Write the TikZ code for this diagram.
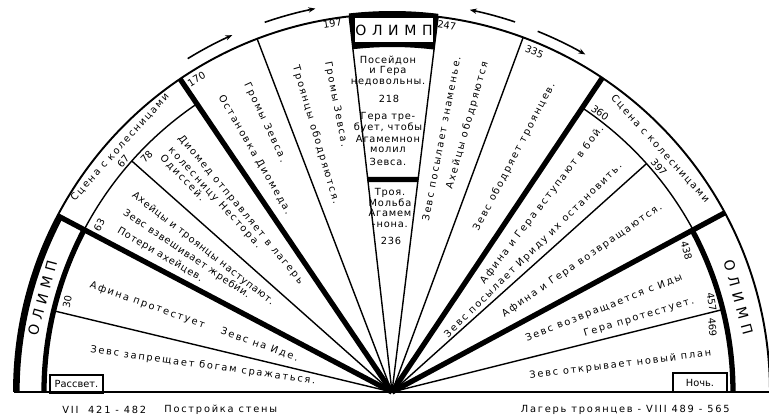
\documentclass[tikz,border=0pt]{standalone}
\usepackage{fontspec}
\setmainfont{DejaVu Sans}
\newfontfamily\widefont{DejaVu Sans}[LetterSpace=18]
\newfontfamily\midfont{DejaVu Sans}[LetterSpace=8]
\newfontfamily\olimpfam{DejaVu Sans}[LetterSpace=40]
\usetikzlibrary{arrows.meta}

\begin{document}
\begin{tikzpicture}[
    x=0.02cm, y=0.02cm,
    txt/.style={font=\widefont\fontsize{5.6}{6.6}\selectfont, inner sep=0pt},
    mid/.style={font=\midfont\fontsize{5.6}{6.6}\selectfont, inner sep=0pt},
    num/.style={font=\fontsize{5.6}{6.6}\selectfont, inner sep=0pt},
    olimp/.style={font=\olimpfam\fontsize{8}{9}\selectfont, inner sep=0pt},
    timebox/.style={num, draw, line width=0.6pt},
    thinray/.style={line width=0.8pt},
    thickray/.style={line width=3pt},
    way/.style={line width=0.9pt, -{Stealth[length=4pt,width=3pt]}}
]
\useasboundingbox (-392,-28) rectangle (377,392);
\coordinate (O) at (0,0);

% Outer arc and base line
\draw[line width=1.1pt] (180:378) arc (180:0:378);
\draw[line width=1.1pt] (-378,0) -- (380,0);

% Olimp bands, left and right
\draw[thickray] (180:375) arc (180:152.2:375);
\draw[thickray] (180:348) arc (180:152.2:348);
\draw[thickray] (0:341) arc (0:28.3:341);

% Chariot bands
\draw[thinray] (152.2:348) arc (152.2:124.1:348);
\draw[thinray] (28.3:342) arc (28.3:56.2:342);

% Rays
\draw[thickray] (O) -- (152.2:378);
\draw[thickray] (O) -- (124.1:378);
\draw[thickray] (O) -- (56.2:378);
\draw[thickray] (O) -- (28.3:378);
\draw[thinray] (O) -- (110.9:378);
\draw[thinray] (O) -- (96.5:378);
\draw[thinray] (O) -- (83:378);
\draw[thinray] (O) -- (69.7:378);
\draw[thinray] (O) -- (166.5:348);
\draw[thinray] (O) -- (138.4:348);
\draw[thinray] (O) -- (41.9:342);
\draw[thinray] (O) -- (14:341);

% Top Olimp box
\fill (96.5:345) -- (96.5:381) arc (96.5:83:381) -- (83:345) arc (83:96.5:345) -- cycle;
\fill[white] (-37,350) rectangle (41,374);
\node[olimp] (OT) at (2,362) {ОЛИМП};
\draw[line width=3pt] (96.5:214) -- (83:214);

% Olimp, left and right
\node[olimp, rotate=75] (OL) at (165:362) {ОЛИМП};
\node[olimp, rotate=-75] (OR) at (15.3:359) {ОЛИМП};

% Chariot scenes
\node[txt, rotate=48] (CL) at (138:366) {Сцена с колесницами};
\node[txt, rotate=-47.8] (CR) at (42.2:362) {Сцена с колесницами};

% Dawn and night
\node[timebox, minimum width=1.06cm, minimum height=0.36cm] (Dawn) at (-315.5,8) {Рассвет.};
\node[timebox, minimum width=1.08cm, minimum height=0.38cm] (Night) at (308,9.5) {Ночь.};

% Left half
\node[txt, rotate=-8] (Sa) at (172:191) {Зевс запрещает богам сражаться.};
\node[txt, rotate=-19.5] (Sb) at (160.5:210) {Афина протестует\hspace{10pt}Зевс на Иде.};
\node[mid, rotate=-38, anchor=west] (Sc1) at (-259,198) {Ахейцы и троянцы наступают.};
\node[mid, rotate=-34, anchor=west] (Sc2) at (-268,180) {Зевс взвешивает жребии.};
\node[mid, rotate=-30.5, anchor=west] (Sc3) at (-274,162) {Потери ахейцев.};
\node[txt, rotate=-50.3] (Sd1) at (129.7:237) {Диомед отправляет в лагерь};
\node[txt, rotate=-47.6] (Sd2) at (132.4:263) {колесницу Нестора.};
\node[txt, rotate=-46] (Sd3) at (-209.5,213.9) {Одиссей.};
\node[txt, rotate=-64.8] (Se1) at (115.2:298) {Громы Зевса.};
\node[txt, rotate=-60] (Se2) at (120:274) {Остановка Диомеда.};
\node[txt, rotate=-79] (Sf1) at (101:293) {Громы Зевса.};
\node[txt, rotate=-73.5] (Sf2) at (106.5:268) {Троянцы ободряются.};

% Top sector
\node[mid] (G1) at (-4,332) {Посейдон};
\node[mid] (G2) at (-4,321) {и Гера};
\node[mid] (G3) at (-4,310) {недовольны.};
\node[mid] (G4) at (-3,293) {218};
\node[mid] (G5) at (-4,275) {Гера тре-};
\node[mid] (G6) at (-4,264) {бует, чтобы};
\node[mid] (G7) at (-4,253) {Агамемнон};
\node[mid] (G8) at (-4,242) {молил};
\node[mid] (G9) at (-4,230) {Зевса.};
\node[mid] (G10) at (-2,199) {Троя.};
\node[mid] (G11) at (-2,189) {Мольба};
\node[mid] (G12) at (-2,179) {Агамем};
\node[mid] (G13) at (-2,167) {-нона.};
\node[mid] (G14) at (-1,151) {236};

% Right half
\node[txt, rotate=79] (Sh1) at (79:258) {Зевс посылает знаменье.};
\node[txt, rotate=74.2] (Sh2) at (74.2:277) {Ахейцы ободряются};
\node[txt, rotate=62.5] (Si) at (62.5:265) {Зевс ободряет троянцев.};
\node[txt, rotate=52.5] (Sj1) at (51.3:240) {Афина и Гера вступают в бой.};
\node[txt, rotate=44.5] (Sj2) at (45:200) {Зевс посылает Ириду их остановить.};
\node[txt, rotate=34.6] (Sk) at (34.6:231) {Афина и Гера возвращаются.};
\node[txt, rotate=21.6] (Sl1) at (21.6:228) {Зевс возвращается с Иды};
\node[txt, rotate=16.8] (Sl2) at (16.8:258) {Гера протестует.};
\node[txt, rotate=6.9] (Sm) at (6.9:230) {Зевс открывает новый план};

% Verse numbers
\node[num, rotate=80] (N30) at (164.5:337) {30};
\node[num, rotate=61] (N63) at (150.3:337) {63};
\node[num, rotate=49] (N67) at (139.4:354) {67};
\node[num, rotate=46] (N78) at (136.2:340) {78};
\node[num, rotate=32] (N170) at (122:369) {170};
\node[num, rotate=9] (N197) at (99.2:373) {197};
\node[num, rotate=-8.5] (N247) at (81.5:371) {247};
\node[num, rotate=-22.7] (N335) at (67.3:369) {335};
\node[num, rotate=-36.7] (N360) at (53.3:348) {360};
\node[num, rotate=-50] (N397) at (40.1:349) {397};
\node[num, rotate=-75] (N438) at (25.7:327) {438};
\node[num, rotate=-80] (N457) at (15.7:332) {457};
\node[num, rotate=-85] (N469) at (11.4:327) {469};

% Way up and down
\draw[way] (121.5:391) arc (121.5:114.1:391);
\draw[way] (109:391) arc (109:101.3:391);
\draw[way] (71.6:390) arc (71.6:78.5:390);
\draw[way] (68:389) arc (68:60.2:389);

% Captions below
\node[txt, anchor=west] (B1) at (-330,-18) {VII\ \ 421 - 482};
\node[txt, anchor=west] (B2) at (-228,-18) {Постройка стены};
\node[txt, anchor=east] (B3) at (338,-18) {Лагерь троянцев - VIII 489 - 565};

\end{tikzpicture}
\end{document}
